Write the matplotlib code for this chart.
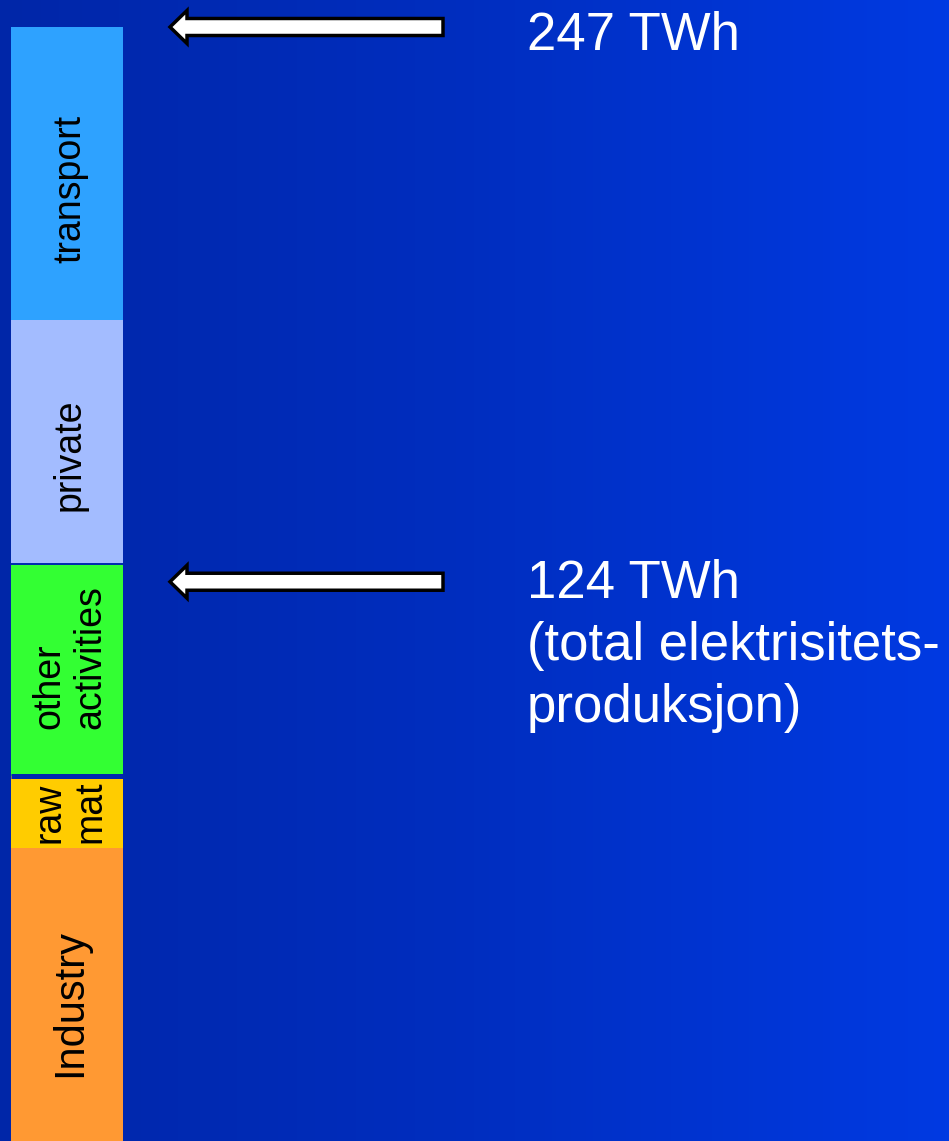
import numpy as np
import matplotlib.pyplot as plt
from matplotlib.patches import FancyArrow
from matplotlib.colors import LinearSegmentedColormap

plt.rcParams['font.family'] = ['Liberation Sans', 'DejaVu Sans']

# Energy use by sector, TWh (stacked bottom to top)
sectors = ['Industry', 'raw\nmat', 'other\nactivities', 'private', 'transport']
values = [65, 16, 47, 54, 65]
colors = ['#FF9933', '#FFCC00', '#33FF33', '#A3BCFF', '#2EA2FF']
label_sizes = [30, 27, 27, 27, 27]
label_shift = [-6, 0, 9, -9, -11]   # points, nudges label along the bar

# Reference levels marked with arrows
marks = [247, 124]
mark_labels = ['247 TWh', '124 TWh\n(total elektrisitets-\nproduksjon)']
# offset (points) from arrow level to the baseline of the label's last line
mark_text_dy = [-16.5, -101]

W, H = 949, 1141
fig = plt.figure(figsize=(W / 100, H / 100), dpi=100)

# blue slide background, darker on the left
bg = fig.add_axes([0, 0, 1, 1])
bg.set_axis_off()
cmap = LinearSegmentedColormap.from_list('slide', ['#0026A8', '#002EC0', '#003AE2'])
bg.imshow(np.linspace(0, 1, 256)[None, :], aspect='auto', cmap=cmap,
          extent=[0, 1, 0, 1])
bg.set_xlim(0, 1)
bg.set_ylim(0, 1)

ax = fig.add_axes([0, 0, 1, 1])
ax.set_axis_off()
ax.patch.set_alpha(0)
ax.set_xlim(0, W)
# 247 TWh sits 27 px below the top edge
ax.set_ylim(0, 247 * H / (H - 27))

bar_x, bar_w = 67, 112
bottoms = np.concatenate([[0], np.cumsum(values)[:-1]])
ax.bar(bar_x, values, bottom=bottoms, width=bar_w, color=colors, linewidth=0)

# thin gaps between some of the blocks
gap_color = '#0028B0'
ax.plot([bar_x - bar_w / 2, bar_x + bar_w / 2], [bottoms[2], bottoms[2]],
        color=gap_color, lw=3.6, solid_capstyle='butt')
ax.plot([bar_x - bar_w / 2, bar_x + bar_w / 2], [bottoms[3], bottoms[3]],
        color=gap_color, lw=1.4, solid_capstyle='butt')

for name, b, v, fs, dy in zip(sectors, bottoms, values, label_sizes, label_shift):
    ax.annotate(name, (bar_x + 3, b + v / 2), xytext=(0, dy),
                textcoords='offset points', rotation=90, ha='center',
                va='center', fontsize=fs, color='black', multialignment='left',
                linespacing=1.2)

# arrows pointing at the bar
yscale = ax.get_ylim()[1] / H
for level, text, dy in zip(marks, mark_labels, mark_text_dy):
    ax.add_patch(FancyArrow(443, level, -273, 0, width=17 * yscale,
                            head_width=33 * yscale, head_length=17,
                            length_includes_head=True, fc='white',
                            ec='black', lw=2.5, zorder=3))
    ax.annotate(text, (527, level), xytext=(0, dy), textcoords='offset points',
                color='white', fontsize=38, va='baseline', ha='left',
                linespacing=1.31)

fig.savefig('out.png', dpi=100)
